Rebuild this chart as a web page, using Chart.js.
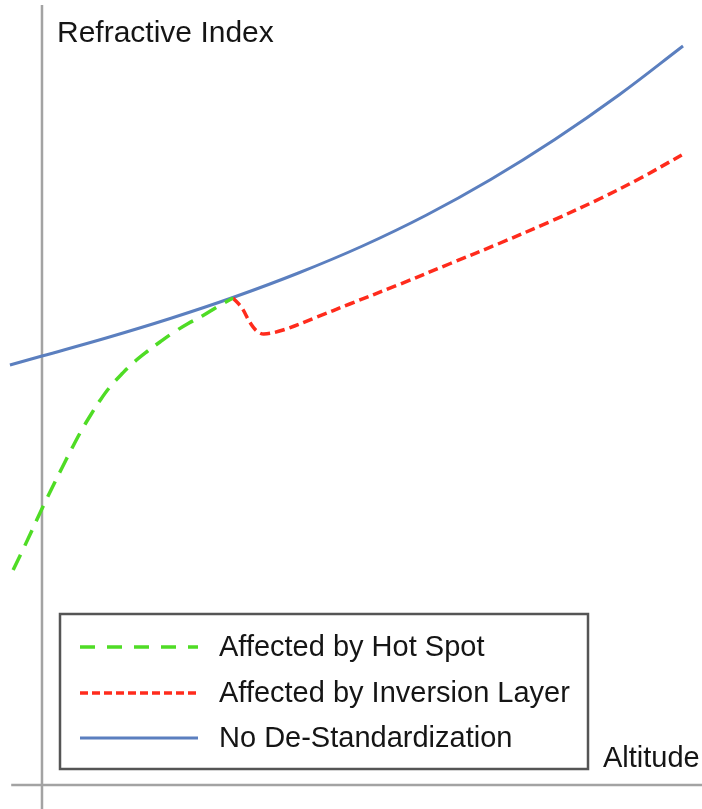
<!DOCTYPE html>
<html lang="en">
<head>
    <meta charset="UTF-8">
    <title>Refractive Index vs Altitude</title>
    <script src="https://cdn.jsdelivr.net/npm/chart.js@4"></script>
    <style>
        body { margin: 0; background: #fff; }
        #grafico { display: block; }
    </style>
</head>
<body>
    <canvas id="grafico" width="702" height="809"></canvas>

<script>
    // altitude (x) and refractive index (y), arbitrary units
    var semX = [-0.5, 0, 1, 2, 3, 4, 5, 6, 7, 8, 9, 10];
    var semY = [4.20, 4.29, 4.47, 4.665, 4.88, 5.12, 5.39, 5.70, 6.055, 6.455, 6.90, 7.39];

    var hotX = [-0.45, -0.27, 0.02, 0.28, 0.47, 0.62, 0.75, 0.91, 1.06, 1.26, 1.42, 1.64, 1.84, 2.04, 2.28, 2.50, 2.73, 2.98];
    var hotY = [2.15, 2.39, 2.79, 3.13, 3.37, 3.55, 3.69, 3.85, 3.98, 4.12, 4.22, 4.335, 4.43, 4.52, 4.615, 4.69, 4.78, 4.87];

    var invX = [2.98, 3.12, 3.24, 3.35, 3.46, 3.76, 4.29, 4.80, 5.59, 6.37, 7.15, 7.93, 8.71, 9.34, 9.98];
    var invY = [4.87, 4.77, 4.63, 4.54, 4.51, 4.55, 4.68, 4.81, 5.01, 5.215, 5.42, 5.635, 5.865, 6.07, 6.30];

    var legendas = ['Affected by Hot Spot', 'Affected by Inversion Layer', 'No De-Standardization'];
    var tituloY = 'Refractive Index';
    var tituloX = 'Altitude';

    var fonte = '"Liberation Sans", Arial, Helvetica, sans-serif';

    function pontos(xs, ys) {
        var lista = [];
        for (var i = 0; i < xs.length; i++) {
            lista.push({ x: xs[i], y: ys[i] });
        }
        return lista;
    }

    // eixos, titulos e a caixa da legenda
    const desenhoExtra = {
        id: 'desenhoExtra',
        beforeDatasetsDraw(chart) {
            const ctx = chart.ctx;
            const x = chart.scales.x;
            const y = chart.scales.y;
            ctx.save();
            ctx.strokeStyle = '#a3a3a3';
            ctx.lineWidth = 2.5;
            ctx.beginPath();
            ctx.moveTo(x.getPixelForValue(0), y.getPixelForValue(7.80));
            ctx.lineTo(x.getPixelForValue(0), chart.height);
            ctx.moveTo(x.getPixelForValue(-0.48), y.getPixelForValue(0));
            ctx.lineTo(chart.width, y.getPixelForValue(0));
            ctx.stroke();
            ctx.restore();
        },
        afterDraw(chart) {
            const ctx = chart.ctx;
            ctx.save();
            ctx.fillStyle = '#151515';
            ctx.textBaseline = 'alphabetic';
            ctx.font = '30px ' + fonte;
            ctx.fillText(tituloY, 57, 42);
            ctx.font = '29px ' + fonte;
            ctx.fillText(tituloX, 603, 767);

            // caixa da legenda
            ctx.fillStyle = '#fff';
            ctx.fillRect(60, 614, 528, 155);
            ctx.strokeStyle = '#555';
            ctx.lineWidth = 2.5;
            ctx.strokeRect(60, 614, 528, 155);

            const linhas = [647, 693, 738];
            [0, 1, 2].forEach(function (d, i) {
                const ds = chart.data.datasets[d];
                ctx.strokeStyle = ds.borderColor;
                ctx.lineWidth = ds.borderWidth;
                ctx.setLineDash(ds.legendDash || []);
                ctx.beginPath();
                ctx.moveTo(80, linhas[i]);
                ctx.lineTo(198, linhas[i]);
                ctx.stroke();
                ctx.setLineDash([]);
                ctx.fillStyle = '#151515';
                ctx.font = '29px ' + fonte;
                ctx.fillText(ds.label, 219, linhas[i] + 9);
            });
            ctx.restore();
        }
    };

    const config = {
        type: 'scatter',
        data: {
            datasets: [
                {
                    label: legendas[0],
                    data: pontos(hotX, hotY),
                    borderColor: '#4fdc25',
                    borderWidth: 3.5,
                    borderDash: [17, 10],
                    legendDash: [15, 12],
                    showLine: true,
                    pointRadius: 0,
                    tension: 0.4
                },
                {
                    label: legendas[1],
                    data: pontos(invX, invY),
                    borderColor: '#ff2b1c',
                    borderWidth: 3.5,
                    borderDash: [10, 5],
                    legendDash: [8, 4],
                    showLine: true,
                    pointRadius: 0,
                    tension: 0.35
                },
                {
                    label: legendas[2],
                    data: pontos(semX, semY),
                    borderColor: '#5b7fbf',
                    borderWidth: 3,
                    showLine: true,
                    pointRadius: 0,
                    tension: 0.4
                }
            ]
        },
        options: {
            responsive: false,
            animation: false,
            devicePixelRatio: 1,
            layout: { padding: 0 },
            scales: {
                x: { type: 'linear', display: false, min: -0.655, max: 10.296 },
                y: { type: 'linear', display: false, min: -0.24, max: 7.85 }
            },
            plugins: {
                legend: { display: false },
                tooltip: { enabled: false }
            }
        },
        plugins: [desenhoExtra]
    };

    new Chart(document.getElementById('grafico'), config);
</script>
</body>
</html>
